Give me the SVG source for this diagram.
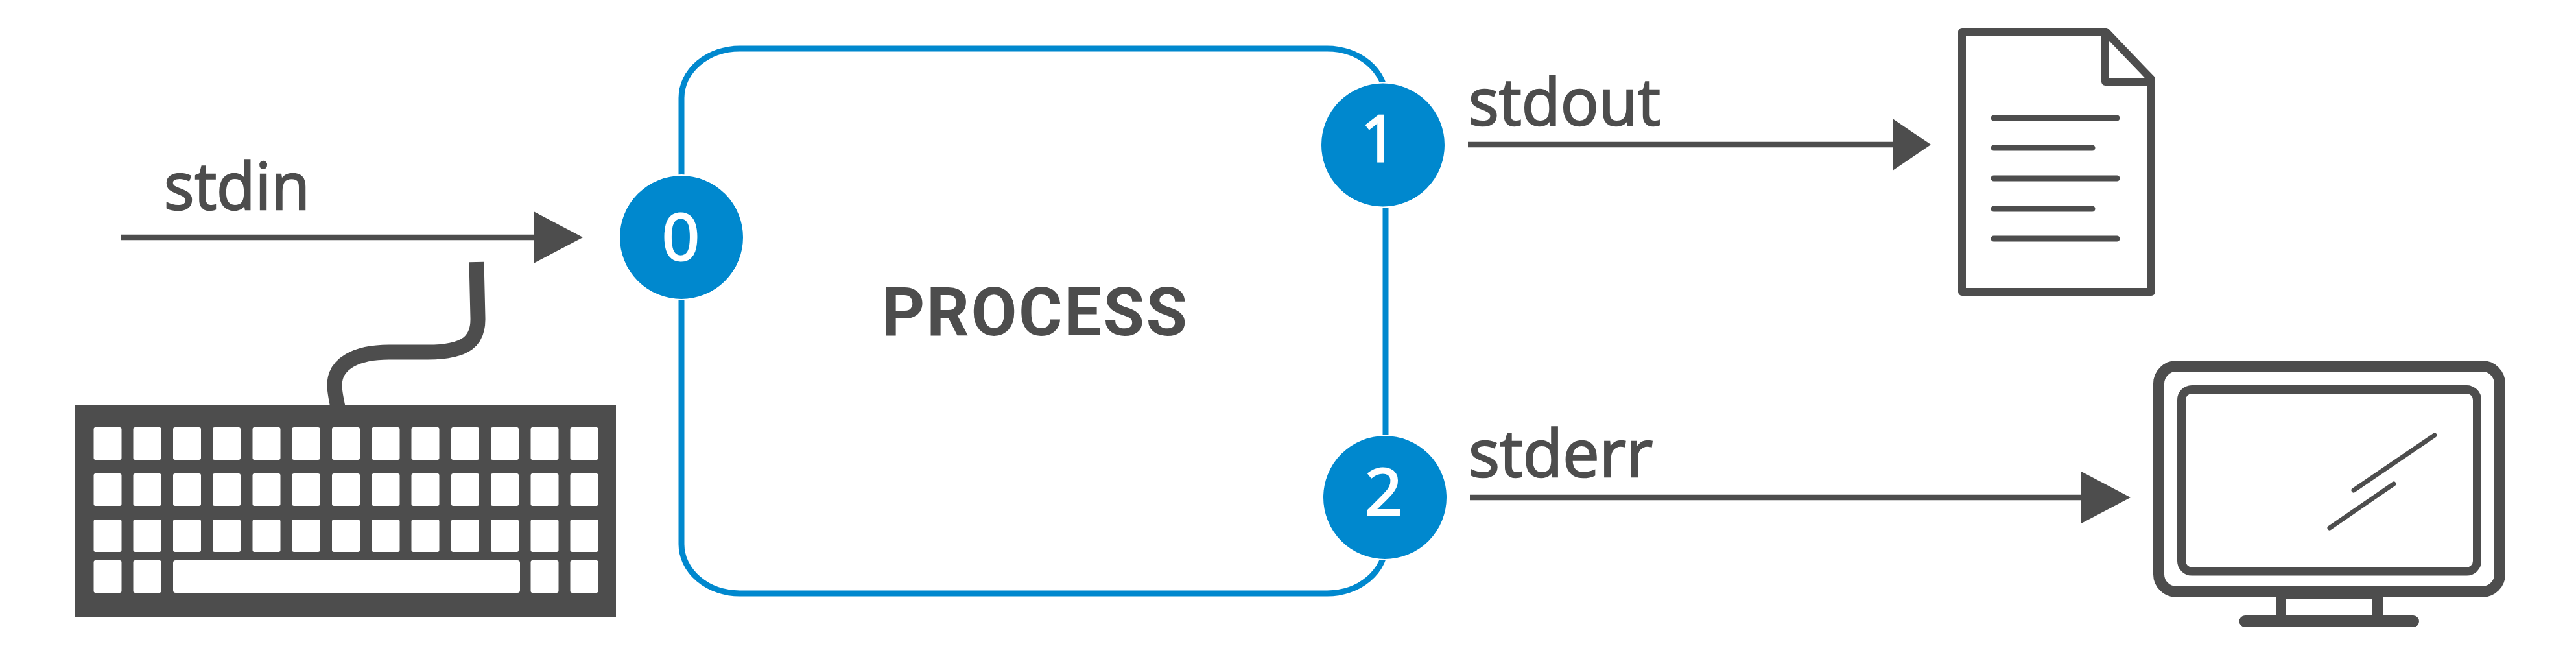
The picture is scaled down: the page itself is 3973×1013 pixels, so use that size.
<svg xmlns="http://www.w3.org/2000/svg" width="3973" height="1013" viewBox="0 0 3973 1013">
<style>
.lbl{font-family:"Open Sans","Liberation Sans",sans-serif;font-size:100px;fill:#4d4d4d;stroke:#4d4d4d;stroke-width:2.500}
.num{font-family:"Open Sans","Liberation Sans",sans-serif;font-size:99px;fill:#fff;text-anchor:middle;stroke:#fff;stroke-width:3}
.ttl{font-family:Roboto,"Liberation Sans",sans-serif;font-size:103px;font-weight:700;fill:#4d4d4d}
.port{fill:#0088ce;stroke:#fff;stroke-width:2}
.wire{stroke:#4d4d4d;stroke-width:8.500;fill:none}
.head{fill:#4d4d4d}
.key{fill:#fff}
.ico{fill:none;stroke:#4d4d4d;stroke-linecap:round;stroke-linejoin:round}
</style>
<rect width="3973" height="1013" fill="#fff"/>
<g id="connectors">
<line class="wire" x1="186" y1="366" x2="825" y2="366"/><polygon class="head" points="823,326 899,366 823,406"/>
<line class="wire" x1="2264" y1="223" x2="2921" y2="223"/><polygon class="head" points="2919,183 2978,223 2919,263"/>
<line class="wire" x1="2267" y1="767" x2="3212" y2="767"/><polygon class="head" points="3210,727 3286,767 3210,807"/>
</g>
<g id="process">
<rect x="1051" y="75" width="1086" height="840" rx="90" ry="76" fill="none" stroke="#0088ce" stroke-width="9"/>
<text class="ttl" x="1360" y="517" textLength="471">PROCESS</text>
</g>
<g id="port-0"><circle class="port" cx="1051" cy="366" r="96"/><text class="num" x="1050" y="401" textLength="58" lengthAdjust="spacingAndGlyphs">0</text></g>
<g id="port-1"><circle class="port" cx="2133" cy="223.500" r="96"/><text class="num" x="2127" y="249">1</text></g>
<g id="port-2"><circle class="port" cx="2136" cy="767" r="96"/><text class="num" x="2134" y="794" textLength="58" lengthAdjust="spacingAndGlyphs">2</text></g>
<g id="stdin-label"><text class="lbl" x="253" y="323" textLength="225" lengthAdjust="spacingAndGlyphs">stdin</text></g>
<g id="stdout-label"><text class="lbl" x="2265" y="193" textLength="296" lengthAdjust="spacingAndGlyphs">stdout</text></g>
<g id="stderr-label"><text class="lbl" x="2265" y="735" textLength="284" lengthAdjust="spacingAndGlyphs">stderr</text></g>
<g id="keyboard">
<path d="M735 404L737 490C738 525 720 543 660 543L600 543C550 543 516 560 516 594C516 605 519 618 522 632" fill="none" stroke="#4d4d4d" stroke-width="23"/>
<rect x="116" y="625" width="834" height="327" fill="#4d4d4d"/>
<defs>
<g id="key-row"><rect class="key" x="144.500" width="43" height="50" rx="3"/><rect class="key" x="205.500" width="43" height="50" rx="3"/><rect class="key" x="267" width="43" height="50" rx="3"/><rect class="key" x="328" width="43" height="50" rx="3"/><rect class="key" x="389.500" width="43" height="50" rx="3"/><rect class="key" x="450.500" width="43" height="50" rx="3"/><rect class="key" x="512" width="43" height="50" rx="3"/><rect class="key" x="573.500" width="43" height="50" rx="3"/><rect class="key" x="634.500" width="43" height="50" rx="3"/><rect class="key" x="696" width="43" height="50" rx="3"/><rect class="key" x="757" width="43" height="50" rx="3"/><rect class="key" x="818.500" width="43" height="50" rx="3"/><rect class="key" x="879.500" width="43" height="50" rx="3"/></g>
</defs>
<use href="#key-row" y="659"/><use href="#key-row" y="730"/><use href="#key-row" y="801"/>
<rect class="key" x="144.500" y="864" width="43" height="50" rx="3"/><rect class="key" x="205.500" y="864" width="43" height="50" rx="3"/><rect class="key" x="267" y="864" width="535" height="50" rx="4"/><rect class="key" x="818.500" y="864" width="43" height="50" rx="3"/><rect class="key" x="879.500" y="864" width="43" height="50" rx="3"/>
</g>
<g id="document">
<path class="ico" stroke-width="12" d="M3026 49H3248L3318 122V450H3026Z"/>
<path class="ico" stroke-width="12" d="M3247 49V126H3318"/>
<path class="ico" stroke-width="9" d="M3075 182H3265M3075 228H3227M3075 275H3265M3075 322H3227M3075 368H3265"/>
</g>
<g id="monitor">
<rect class="ico" x="3329.500" y="564.500" width="526" height="348" rx="27" ry="27" stroke-width="17"/>
<rect class="ico" x="3364.500" y="600.500" width="456" height="280.500" rx="16" ry="16" stroke-width="13"/>
<path class="ico" stroke-width="7" d="M3630 756L3755 671M3593 814L3692 746"/>
<path fill="#4d4d4d" d="M3510 920H3675V952H3659V923H3526V952H3510Z"/>
<rect x="3453.500" y="949" width="277.500" height="18" rx="9" fill="#4d4d4d"/>
</g>
</svg>
